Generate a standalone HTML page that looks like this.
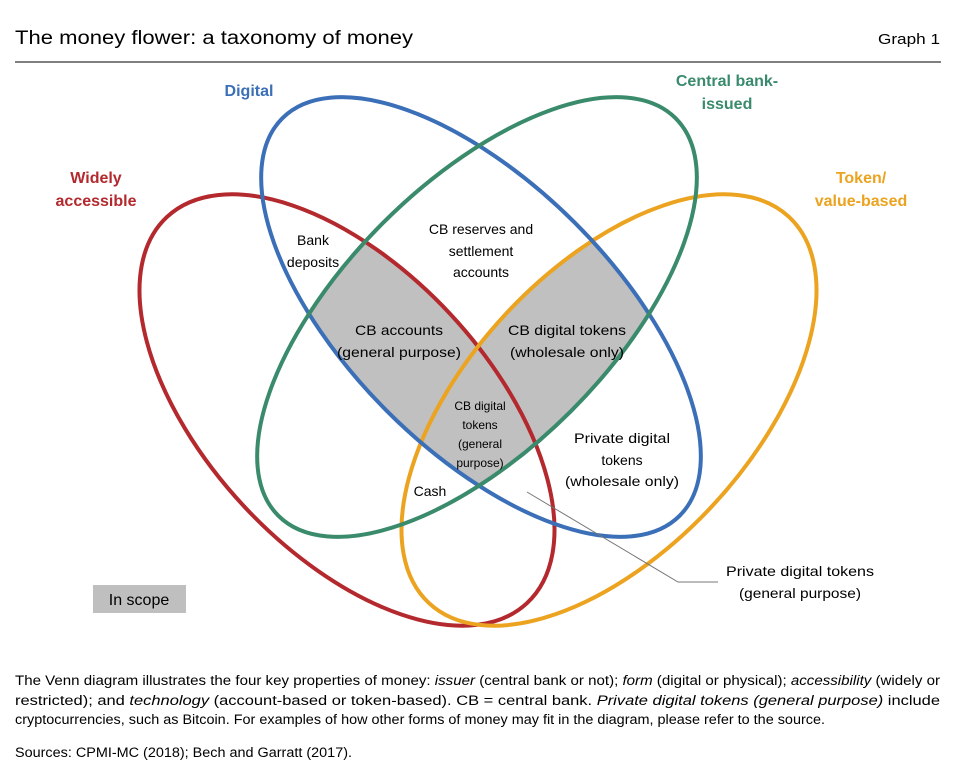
<!DOCTYPE html>
<html><head><meta charset="utf-8"><style>
html,body{margin:0;padding:0;background:#fff;}
svg{display:block;font-family:"Liberation Sans",sans-serif;}
</style></head><body>
<svg width="956" height="768" viewBox="0 0 956 768" xmlns="http://www.w3.org/2000/svg">
<defs>
<clipPath id="cb"><ellipse cx="481" cy="317" rx="281" ry="133" transform="rotate(45 481 317)"/></clipPath>
<clipPath id="cg"><ellipse cx="477" cy="317" rx="281" ry="133" transform="rotate(-45 477 317)"/></clipPath>
</defs>
<text x="15" y="44" font-size="19" textLength="398" lengthAdjust="spacingAndGlyphs">The money flower: a taxonomy of money</text>
<text x="940" y="44" font-size="15" text-anchor="end" textLength="62" lengthAdjust="spacingAndGlyphs">Graph 1</text>
<line x1="15" y1="62" x2="941" y2="62" stroke="#000" stroke-width="1"/>

<g clip-path="url(#cg)"><g clip-path="url(#cb)">
<ellipse cx="347" cy="410" rx="264" ry="141" transform="rotate(47 347 410)" fill="#c0c0c0"/>
<ellipse cx="609" cy="410" rx="264" ry="141" transform="rotate(-47 609 410)" fill="#c0c0c0"/>
</g></g>

<g fill="none" stroke-width="4">
<ellipse cx="347" cy="410" rx="264" ry="141" transform="rotate(47 347 410)" stroke="#b3292d"/>
<ellipse cx="609" cy="410" rx="264" ry="141" transform="rotate(-47 609 410)" stroke="#eba320"/>
<ellipse cx="481" cy="317" rx="281" ry="133" transform="rotate(45 481 317)" stroke="#3b6fb7"/>
<ellipse cx="477" cy="317" rx="281" ry="133" transform="rotate(-45 477 317)" stroke="#3a8a6c"/>
</g>

<polyline points="527,492 678,582 718,582" fill="none" stroke="#777" stroke-width="1"/>

<g font-weight="bold" font-size="16" text-anchor="middle">
<text x="249" y="96" fill="#3b6fb7">Digital</text>
<text x="727" y="86" fill="#3a8a6c">Central bank-</text>
<text x="727" y="109" fill="#3a8a6c">issued</text>
<text x="96" y="183" fill="#b3292d">Widely</text>
<text x="96" y="206" fill="#b3292d">accessible</text>
<text x="861" y="183" fill="#eba320">Token/</text>
<text x="861" y="206" fill="#eba320">value-based</text>
</g>

<g font-size="14" text-anchor="middle" fill="#000">
<text x="313" y="245">Bank</text>
<text x="313" y="267">deposits</text>
<text x="481" y="234">CB reserves and</text>
<text x="481" y="256">settlement</text>
<text x="481" y="277">accounts</text>
<text x="399" y="335" textLength="88" lengthAdjust="spacingAndGlyphs">CB accounts</text>
<text x="399" y="357" textLength="124" lengthAdjust="spacingAndGlyphs">(general purpose)</text>
<text x="567" y="335" textLength="118" lengthAdjust="spacingAndGlyphs">CB digital tokens</text>
<text x="567" y="357" textLength="114" lengthAdjust="spacingAndGlyphs">(wholesale only)</text>
<text x="622" y="443" textLength="96" lengthAdjust="spacingAndGlyphs">Private digital</text>
<text x="622" y="465">tokens</text>
<text x="622" y="486" textLength="114" lengthAdjust="spacingAndGlyphs">(wholesale only)</text>
<text x="430" y="496">Cash</text>
<text x="800" y="576" textLength="148" lengthAdjust="spacingAndGlyphs">Private digital tokens</text>
<text x="800" y="598" textLength="122" lengthAdjust="spacingAndGlyphs">(general purpose)</text>
</g>
<g font-size="12" text-anchor="middle">
<text x="480" y="410">CB digital</text>
<text x="480" y="429">tokens</text>
<text x="480" y="448">(general</text>
<text x="480" y="467">purpose)</text>
</g>

<rect x="93" y="585" width="93" height="28" fill="#bfbfbf"/>
<text x="139" y="605" font-size="16" text-anchor="middle">In scope</text>

<g font-size="13.5">
<text x="15" y="685" textLength="925" lengthAdjust="spacingAndGlyphs">The Venn diagram illustrates the four key properties of money: <tspan font-style="italic">issuer</tspan> (central bank or not); <tspan font-style="italic">form</tspan> (digital or physical); <tspan font-style="italic">accessibility</tspan> (widely or</text>
<text x="15" y="705" textLength="925" lengthAdjust="spacingAndGlyphs">restricted); and <tspan font-style="italic">technology</tspan> (account-based or token-based). CB = central bank. <tspan font-style="italic">Private digital tokens (general purpose)</tspan> include</text>
<text x="15" y="724" textLength="810" lengthAdjust="spacingAndGlyphs">cryptocurrencies, such as Bitcoin. For examples of how other forms of money may fit in the diagram, please refer to the source.</text>
<text x="15" y="757" textLength="337" lengthAdjust="spacingAndGlyphs">Sources: CPMI-MC (2018); Bech and Garratt (2017).</text>
</g>
</svg>
</body></html>
